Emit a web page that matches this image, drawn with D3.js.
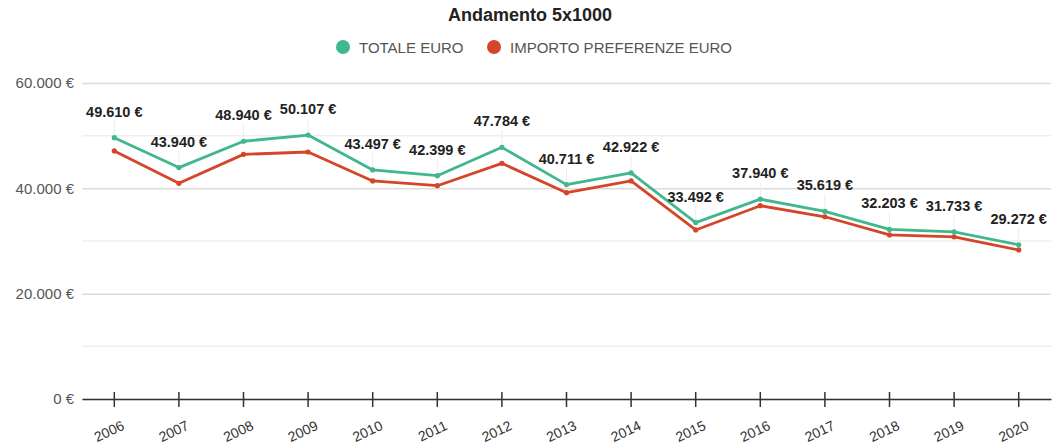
<!DOCTYPE html>
<html>
<head>
<meta charset="utf-8">
<script src="https://cdn.jsdelivr.net/npm/d3@7"></script>
<style>
  body { margin: 0; background: #fff; font-family: "Liberation Sans", Arial, sans-serif; }
</style>
</head>
<body>
<svg id="chart"></svg>
<script>
// data
const years = ['2006','2007','2008','2009','2010','2011','2012','2013','2014','2015','2016','2017','2018','2019','2020'];
const totale = [49610, 43940, 48940, 50107, 43497, 42399, 47784, 40711, 42922, 33492, 37940, 35619, 32203, 31733, 29272];
const preferenze = [47100, 40950, 46450, 46900, 41400, 40500, 44750, 39170, 41400, 32100, 36700, 34600, 31150, 30800, 28300];
const seriesNames = ['TOTALE EURO', 'IMPORTO PREFERENZE EURO'];
const yTicks = [0, 20000, 40000, 60000];

const W = 1058, H = 447;
const margin = {top: 83, right: 7, bottom: 48, left: 82};
const green = '#40b78c', red = '#d6452a';
const font = '"Liberation Sans", Arial, sans-serif';

const svg = d3.select('#chart').attr('width', W).attr('height', H)
  .attr('font-family', font);

const fmt = v => d3.format(',')(v).replace(/,/g, '.') + ' €';

const x = d3.scaleBand().domain(years).range([margin.left, W - margin.right]);
const y = d3.scaleLinear().domain([0, 60000]).range([H - margin.bottom, margin.top]);
const cx = d => x(d) + x.bandwidth() / 2;

// minor gridlines
svg.append('g').selectAll('line')
  .data(d3.range(10000, 60000, 20000))
  .join('line')
  .attr('x1', margin.left).attr('x2', W - margin.right)
  .attr('y1', d => y(d)).attr('y2', d => y(d))
  .attr('stroke', '#efefef').attr('stroke-width', 1.5);

// major gridlines + labels
const yAxis = svg.append('g')
  .attr('transform', 'translate(' + margin.left + ',0)')
  .call(d3.axisLeft(y).tickValues(yTicks).tickFormat(fmt).tickSize(-(W - margin.left - margin.right)).tickPadding(8));
yAxis.select('.domain').remove();
yAxis.selectAll('.tick line').attr('stroke', '#dcdcdc').attr('stroke-width', 1.5);
yAxis.selectAll('.tick text').attr('fill', '#555').attr('font-size', 15).attr('font-family', font);

// bottom axis
const xAxis = svg.append('g')
  .attr('transform', 'translate(0,' + y(0) + ')')
  .call(d3.axisBottom(x).tickSizeInner(8).tickSizeOuter(0));
xAxis.select('.domain').attr('stroke', '#333').attr('stroke-width', 1.5);
xAxis.selectAll('.tick line').attr('y1', -7).attr('stroke', '#333').attr('stroke-width', 1.5);
xAxis.selectAll('.tick text')
  .attr('fill', '#333').attr('font-size', 14).attr('font-family', font)
  .attr('text-anchor', 'end')
  .attr('x', 0).attr('y', 0).attr('dy', 0)
  .attr('transform', 'translate(11,30) rotate(-25)');

// leader lines from labels
svg.append('g').selectAll('line')
  .data(years)
  .join('line')
  .attr('x1', d => cx(d)).attr('x2', d => cx(d))
  .attr('y1', (d, i) => y(totale[i]) - 17).attr('y2', (d, i) => y(totale[i]))
  .attr('stroke', '#ededed').attr('stroke-width', 1);

const line = d3.line().x((d, i) => cx(years[i])).y(d => y(d));

[[preferenze, red], [totale, green]].forEach(([vals, col]) => {
  svg.append('path').datum(vals)
    .attr('d', line).attr('fill', 'none')
    .attr('stroke', col).attr('stroke-width', 2.8)
    .attr('stroke-linejoin', 'round');
  svg.append('g').selectAll('circle')
    .data(vals).join('circle')
    .attr('cx', (d, i) => cx(years[i])).attr('cy', d => y(d))
    .attr('r', 2.6).attr('fill', col);
});

// value labels
svg.append('g').selectAll('text')
  .data(totale).join('text')
  .attr('x', (d, i) => cx(years[i]))
  .attr('y', d => y(d) - 21)
  .attr('text-anchor', 'middle')
  .attr('font-size', 14.5).attr('font-weight', 'bold').attr('fill', '#222')
  .text(fmt);

// title
svg.append('text')
  .attr('x', 530).attr('y', 21)
  .attr('text-anchor', 'middle')
  .attr('font-size', 18).attr('font-weight', 'bold').attr('fill', '#222')
  .text('Andamento 5x1000');

// legend
const legend = svg.append('g');
const legendX = [343, 494];
seriesNames.forEach((name, i) => {
  legend.append('circle').attr('cx', legendX[i]).attr('cy', 47).attr('r', 7)
    .attr('fill', i === 0 ? green : red);
  legend.append('text').attr('x', legendX[i] + 16).attr('y', 52.5)
    .attr('font-size', 15).attr('fill', '#555').text(name);
});
</script>
</body>
</html>
